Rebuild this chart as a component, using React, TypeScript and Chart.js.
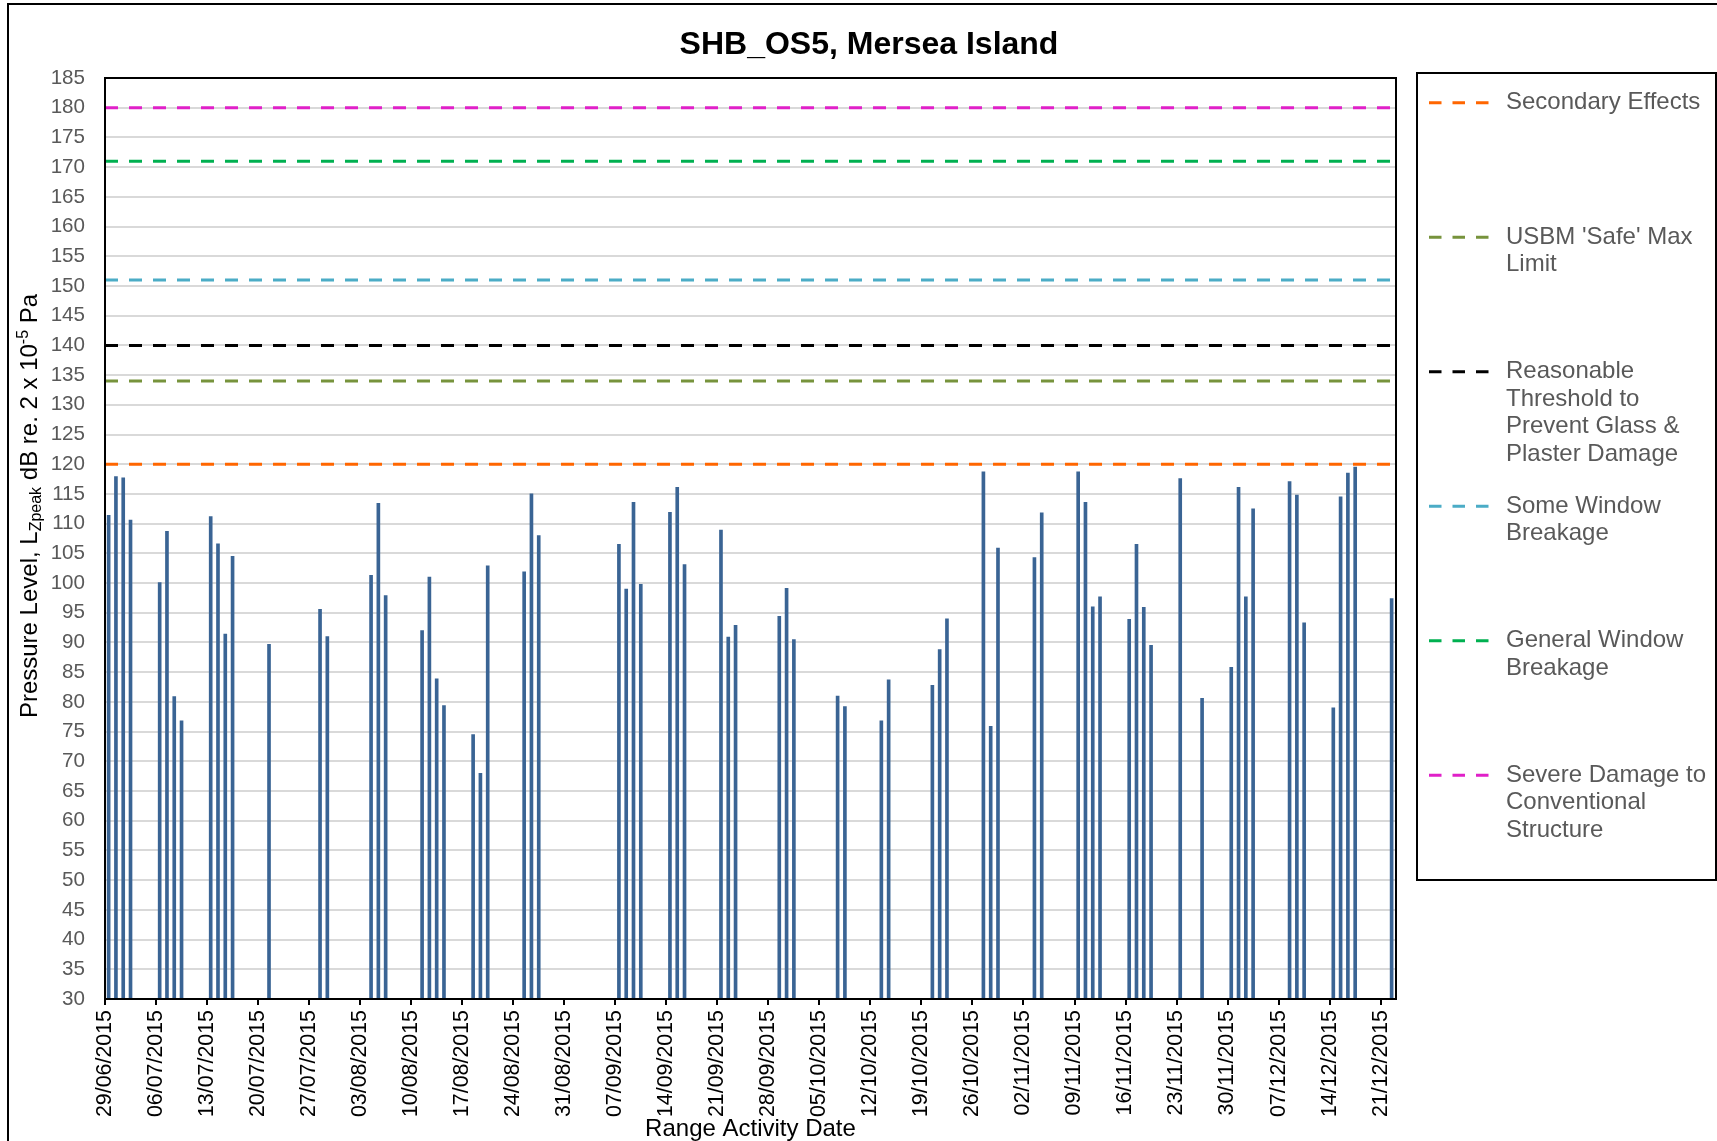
import React, { useEffect, useRef } from 'react';
import { Chart, registerables } from 'chart.js';

Chart.register(...registerables);

const FONT = '"Liberation Sans", Arial, Helvetica, sans-serif';

const chartTitle = 'SHB_OS5, Mersea Island';
const xAxisTitle = 'Range Activity Date';
const startDate = '29/06/2015';

const eventDates = [
  '29/06/2015', '30/06/2015', '01/07/2015', '02/07/2015',
  '06/07/2015', '07/07/2015', '08/07/2015', '09/07/2015',
  '13/07/2015', '14/07/2015', '15/07/2015', '16/07/2015',
  '21/07/2015', '28/07/2015', '29/07/2015',
  '04/08/2015', '05/08/2015', '06/08/2015',
  '11/08/2015', '12/08/2015', '13/08/2015', '14/08/2015',
  '18/08/2015', '19/08/2015', '20/08/2015',
  '25/08/2015', '26/08/2015', '27/08/2015',
  '07/09/2015', '08/09/2015', '09/09/2015', '10/09/2015',
  '14/09/2015', '15/09/2015', '16/09/2015',
  '21/09/2015', '22/09/2015', '23/09/2015',
  '29/09/2015', '30/09/2015', '01/10/2015',
  '07/10/2015', '08/10/2015',
  '13/10/2015', '14/10/2015',
  '20/10/2015', '21/10/2015', '22/10/2015',
  '27/10/2015', '28/10/2015', '29/10/2015',
  '03/11/2015', '04/11/2015',
  '09/11/2015', '10/11/2015', '11/11/2015', '12/11/2015',
  '16/11/2015', '17/11/2015', '18/11/2015', '19/11/2015',
  '23/11/2015', '26/11/2015',
  '30/11/2015', '01/12/2015', '02/12/2015', '03/12/2015',
  '08/12/2015', '09/12/2015', '10/12/2015',
  '14/12/2015', '15/12/2015', '16/12/2015', '17/12/2015',
  '22/12/2015',
];

const peakLevels = [
  111.4, 117.9, 117.7, 110.6,
  100.1, 108.7, 80.9, 76.8,
  111.2, 106.6, 91.4, 104.5,
  89.7, 95.6, 91.0,
  101.3, 113.4, 97.9,
  92.0, 101.0, 83.9, 79.4,
  74.5, 68.0, 102.9,
  101.9, 115.0, 108.0,
  106.5, 99.0, 113.6, 99.8,
  111.9, 116.1, 103.1,
  108.9, 90.9, 92.9,
  94.4, 99.1, 90.5,
  81.0, 79.2,
  76.8, 83.7,
  82.8, 88.8, 94.0,
  118.7, 75.9, 105.9,
  104.3, 111.8,
  118.7, 113.6, 96.0, 97.7,
  93.9, 106.5, 95.9, 89.5,
  117.6, 80.6,
  85.8, 116.1, 97.7, 112.5,
  117.1, 114.8, 93.3,
  79.0, 114.5, 118.5, 119.5,
  97.4,
];

const thresholdNames = [
  'Secondary Effects',
  "USBM 'Safe' Max Limit",
  'Reasonable Threshold to Prevent Glass & Plaster Damage',
  'Some Window Breakage',
  'General Window Breakage',
  'Severe Damage to Conventional Structure',
];
const thresholdLevels = [120, 134, 140, 151, 171, 180];
const thresholdColors = ['#FF6600', '#77933C', '#000000', '#4BACC6', '#00B050', '#E020C8'];

const yMin = 30;
const yMax = 185;
const yStep = 5;
const xStepDays = 7;
const xEndDays = 177.1;
const timeOfDay = 0.5;

const DAY_MS = 86400000;
const parseDMY = (s: string) => {
  const [d, m, y] = s.split('/').map(Number);
  return Date.UTC(y, m - 1, d);
};
const startUTC = parseDMY(startDate);
const toDay = (s: string) => Math.round((parseDMY(s) - startUTC) / DAY_MS);
const fmtDay = (v: number) => {
  const t = new Date(startUTC + Math.round(v) * DAY_MS);
  const dd = String(t.getUTCDate()).padStart(2, '0');
  const mm = String(t.getUTCMonth() + 1).padStart(2, '0');
  return `${dd}/${mm}/${t.getUTCFullYear()}`;
};

const wrapText = (ctx: CanvasRenderingContext2D, text: string, maxW: number) => {
  const words = text.split(' ');
  const lines: string[] = [];
  let cur = '';
  for (const w of words) {
    const test = cur ? cur + ' ' + w : w;
    if (ctx.measureText(test).width > maxW && cur) {
      lines.push(cur);
      cur = w;
    } else {
      cur = test;
    }
  }
  if (cur) lines.push(cur);
  return lines;
};

const decorPlugin = {
  id: 'decor',
  beforeDraw(chart: any) {
    const ctx: CanvasRenderingContext2D = chart.ctx;
    ctx.save();
    ctx.fillStyle = '#ffffff';
    ctx.fillRect(0, 0, chart.width, chart.height);
    ctx.strokeStyle = '#000000';
    ctx.lineWidth = 2;
    ctx.strokeRect(8, 4, 3000, 3000);
    ctx.restore();
  },
  afterDraw(chart: any) {
    const ctx: CanvasRenderingContext2D = chart.ctx;
    const a = chart.chartArea;
    ctx.save();
    // plot frame
    ctx.strokeStyle = '#000000';
    ctx.lineWidth = 2;
    ctx.setLineDash([]);
    ctx.strokeRect(a.left, a.top, a.right - a.left, a.bottom - a.top);

    // title
    ctx.fillStyle = '#000000';
    ctx.font = `bold 32px ${FONT}`;
    ctx.textAlign = 'center';
    ctx.textBaseline = 'middle';
    ctx.fillText(chartTitle, 869, 45);

    // y axis title with subscript / superscript
    const segs = [
      { t: 'Pressure Level, L', s: 24, dy: 0 },
      { t: 'Zpeak', s: 16, dy: 4 },
      { t: ' dB re. 2 x 10', s: 24, dy: 0 },
      { t: '-5', s: 16, dy: -9 },
      { t: ' Pa', s: 24, dy: 0 },
    ];
    let total = 0;
    const widths = segs.map((g) => {
      ctx.font = `${g.s}px ${FONT}`;
      const w = ctx.measureText(g.t).width;
      total += w;
      return w;
    });
    ctx.save();
    ctx.translate(37, 506);
    ctx.rotate(-Math.PI / 2);
    ctx.textAlign = 'left';
    ctx.textBaseline = 'alphabetic';
    let px = -total / 2;
    segs.forEach((g, i) => {
      ctx.font = `${g.s}px ${FONT}`;
      ctx.fillText(g.t, px, g.dy);
      px += widths[i];
    });
    ctx.restore();

    // legend
    const lx = 1417, ly = 73, lw = 299, lh = 807;
    ctx.strokeStyle = '#000000';
    ctx.lineWidth = 2;
    ctx.strokeRect(lx, ly, lw, lh);
    ctx.font = `24px ${FONT}`;
    ctx.textAlign = 'left';
    ctx.textBaseline = 'middle';
    thresholdNames.forEach((name, i) => {
      const cy = 102.7 + i * 134.5;
      ctx.save();
      ctx.strokeStyle = thresholdColors[i];
      ctx.lineWidth = 3;
      ctx.setLineDash([12.5, 11]);
      ctx.beginPath();
      ctx.moveTo(1429, cy);
      ctx.lineTo(1490, cy);
      ctx.stroke();
      ctx.restore();
      ctx.fillStyle = '#595959';
      const lines = wrapText(ctx, name, 208);
      lines.forEach((ln, j) => ctx.fillText(ln, 1506, cy + j * 27.5));
    });
    ctx.restore();
  },
};

export default function App() {
  const ref = useRef<HTMLCanvasElement | null>(null);

  useEffect(() => {
    if (!ref.current) return;
    Chart.defaults.font.family = FONT;

    const barData = eventDates.map((d, i) => ({ x: toDay(d) + timeOfDay, y: peakLevels[i] }));

    const lineSets = thresholdLevels.map((lv, i) => ({
      type: 'line' as const,
      label: thresholdNames[i],
      data: [
        { x: 0, y: lv },
        { x: xEndDays, y: lv },
      ],
      borderColor: thresholdColors[i],
      backgroundColor: thresholdColors[i],
      borderWidth: 3,
      borderDash: [13, 11],
      pointRadius: 0,
      fill: false,
      tension: 0,
    }));

    const chart = new Chart(ref.current, {
      type: 'bar',
      data: {
        datasets: [
          ...lineSets,
          {
            type: 'bar' as const,
            label: 'Peak level',
            data: barData,
            backgroundColor: '#3A6494',
            borderWidth: 0,
            barThickness: 3,
          },
        ] as any,
      },
      options: {
        responsive: false,
        animation: false,
        devicePixelRatio: 1,
        events: [],
        layout: { padding: { top: 78, right: 321, left: 0, bottom: 0 } },
        plugins: {
          legend: { display: false },
          title: { display: false },
          tooltip: { enabled: false },
        },
        scales: {
          x: {
            type: 'linear',
            min: 0,
            max: xEndDays,
            offset: false,
            grid: {
              display: true,
              offset: false,
              drawOnChartArea: false,
              drawTicks: true,
              tickLength: 6,
              color: '#000000',
              lineWidth: 2,
            },
            border: { display: true, color: '#000000', width: 2 },
            ticks: {
              stepSize: xStepDays,
              includeBounds: false,
              autoSkip: false,
              maxRotation: 90,
              minRotation: 90,
              padding: 5,
              color: '#000000',
              font: { size: 21.4, family: FONT },
              callback: (v: any) => fmtDay(Number(v)),
            },
            title: {
              display: true,
              text: xAxisTitle,
              color: '#000000',
              font: { size: 24, family: FONT, lineHeight: 1 },
              padding: { top: 0, bottom: 0 },
            },
            afterFit: (s: any) => {
              s.height = 142;
              s.paddingLeft = 0;
              s.paddingRight = 0;
            },
          },
          y: {
            type: 'linear',
            min: yMin,
            max: yMax,
            grid: {
              color: '#D9D9D9',
              lineWidth: 2,
              drawTicks: false,
            },
            border: { display: true, color: '#000000', width: 2 },
            ticks: {
              stepSize: yStep,
              includeBounds: false,
              autoSkip: false,
              padding: 20,
              color: '#595959',
              font: { size: 20.6, family: FONT },
            },
            afterFit: (s: any) => {
              s.width = 105;
              s.paddingTop = 0;
              s.paddingBottom = 0;
            },
          },
        },
      } as any,
      plugins: [decorPlugin],
    });

    return () => chart.destroy();
  }, []);

  return (
    <div
      style={{
        position: 'fixed',
        left: 0,
        top: 0,
        width: 1717,
        height: 1141,
        overflow: 'hidden',
        background: '#ffffff',
      }}
    >
      <canvas ref={ref} width={1717} height={1141} style={{ display: 'block', width: 1717, height: 1141 }} />
    </div>
  );
}
